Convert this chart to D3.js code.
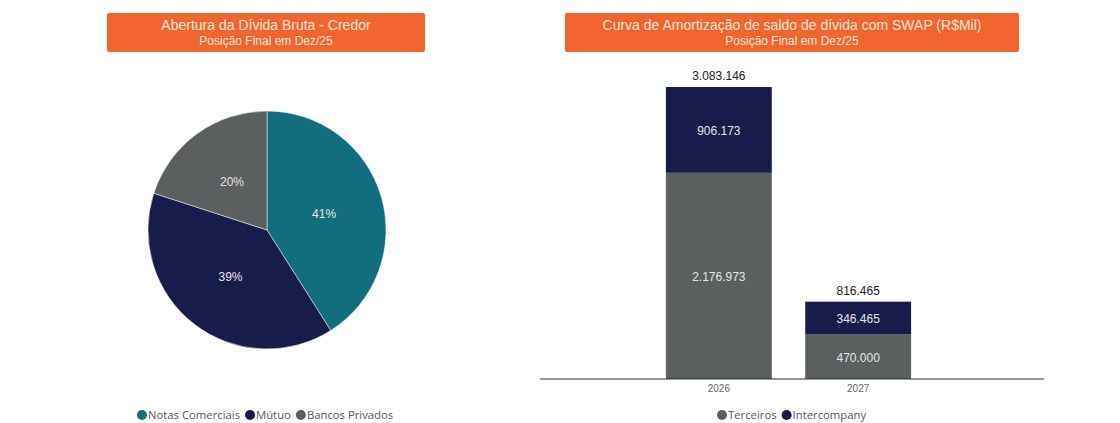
<!DOCTYPE html>
<html>
<head>
<meta charset="utf-8">
<script src="https://cdn.jsdelivr.net/npm/d3@7"></script>
<style>
  body { margin: 0; background: #fff; }
  svg { display: block; }
</style>
</head>
<body>
<div id="chart"></div>
<script>
// Data
const creditors = ["Notas Comerciais", "Mútuo", "Bancos Privados"];
const creditorShare = [41, 39, 20];

const years = ["2026", "2027"];
const seriesNames = ["Terceiros", "Intercompany"];
const terceiros = [2176973, 470000];
const intercompany = [906173, 346465];

const width = 1120;
const height = 423;

const colors = {
  teal: "#126e7e",
  navy: "#181c4a",
  gray: "#5b5f5f",
  orange: "#f26430"
};

const svg = d3.select("#chart")
  .append("svg")
    .attr("width", width)
    .attr("height", height);

const fmt = v => d3.format(",")(v).replace(/,/g, ".");

// Header boxes
function header(x, w, title, sub) {
  const g = svg.append("g").attr("transform", `translate(${x}, 13)`);
  g.append("rect")
    .attr("width", w)
    .attr("height", 39)
    .attr("rx", 2)
    .attr("fill", colors.orange);
  g.append("text")
    .attr("x", w / 2).attr("y", 17)
    .attr("text-anchor", "middle")
    .style("font-family", "Liberation Sans, Arial, sans-serif")
    .style("font-size", "14px")
    .style("fill", "#fce6dc")
    .text(title);
  g.append("text")
    .attr("x", w / 2).attr("y", 32)
    .attr("text-anchor", "middle")
    .style("font-family", "Liberation Sans, Arial, sans-serif")
    .style("font-size", "12px")
    .style("fill", "#fce6dc")
    .text(sub);
}

header(107, 318, "Abertura da Dívida Bruta - Credor", "Posição Final em Dez/25");
header(565, 454, "Curva de Amortização de saldo de dívida com SWAP (R$Mil)", "Posição Final em Dez/25");

// Pie chart
const pieColor = d3.scaleOrdinal()
  .domain(creditors)
  .range([colors.teal, colors.navy, colors.gray]);

const pieData = creditors.map((c, i) => ({ name: c, value: creditorShare[i] }));
const pie = d3.pie().sort(null).value(d => d.value);
const radius = 119;
const arc = d3.arc().innerRadius(0).outerRadius(radius);
const labelArc = d3.arc().innerRadius(radius * 0.5).outerRadius(radius * 0.5);

const pieG = svg.append("g").attr("transform", "translate(267, 230)");

pieG.selectAll("path")
  .data(pie(pieData))
  .enter()
  .append("path")
    .attr("d", arc)
    .attr("fill", d => pieColor(d.data.name))
    .attr("stroke", "#fff")
    .attr("stroke-width", 0.5);

pieG.selectAll("text")
  .data(pie(pieData))
  .enter()
  .append("text")
    .attr("transform", d => `translate(${labelArc.centroid(d)})`)
    .attr("text-anchor", "middle")
    .attr("dy", "0.35em")
    .style("font-family", "Liberation Sans, Arial, sans-serif")
    .style("font-size", "12px")
    .style("fill", "#e6e6e6")
    .text(d => d.data.value + "%");

// Legend helper
function legend(items, colorFn, startX, y) {
  const g = svg.append("g");
  let x = startX;
  items.forEach(name => {
    g.append("circle")
      .attr("cx", x + 5).attr("cy", y)
      .attr("r", 5)
      .attr("fill", colorFn(name));
    const t = g.append("text")
      .attr("x", x + 11).attr("y", y)
      .attr("dy", "0.35em")
      .style("font-family", "Open Sans, sans-serif")
      .style("font-size", "11.3px")
      .style("fill", "#555")
      .text(name);
    x += 11 + t.node().getComputedTextLength() + 5;
  });
}

legend(creditors, pieColor, 137, 415);

// Stacked bar chart
const barColor = d3.scaleOrdinal()
  .domain(seriesNames)
  .range([colors.gray, colors.navy]);

const barRows = years.map((y, i) => ({
  year: y,
  Terceiros: terceiros[i],
  Intercompany: intercompany[i]
}));

const stacked = d3.stack().keys(seriesNames)(barRows);

const xScale = d3.scaleBand()
  .domain(years)
  .range([645, 932])
  .paddingInner(0.24)
  .paddingOuter(0.15);

const yScale = d3.scaleLinear()
  .domain([0, 3083146])
  .range([379, 87]);

const barG = svg.append("g");

barG.selectAll("g.series")
  .data(stacked)
  .enter()
  .append("g")
    .attr("class", "series")
    .attr("fill", d => barColor(d.key))
  .selectAll("rect")
    .data(d => d)
    .enter()
    .append("rect")
      .attr("x", d => xScale(d.data.year))
      .attr("y", d => yScale(d[1]))
      .attr("width", xScale.bandwidth())
      .attr("height", d => yScale(d[0]) - yScale(d[1]));

// segment labels
barG.selectAll("g.segLabels")
  .data(stacked)
  .enter()
  .append("g")
  .selectAll("text")
    .data(d => d)
    .enter()
    .append("text")
      .attr("x", d => xScale(d.data.year) + xScale.bandwidth() / 2)
      .attr("y", d => (yScale(d[0]) + yScale(d[1])) / 2 + 1)
      .attr("dy", "0.35em")
      .attr("text-anchor", "middle")
      .style("font-family", "Liberation Sans, Arial, sans-serif")
      .style("font-size", "12px")
      .style("fill", "#e6e6e6")
      .text(d => fmt(d[1] - d[0]));

// totals
barG.selectAll("text.total")
  .data(barRows)
  .enter()
  .append("text")
    .attr("class", "total")
    .attr("x", d => xScale(d.year) + xScale.bandwidth() / 2)
    .attr("y", d => yScale(d.Terceiros + d.Intercompany) - 7)
    .attr("text-anchor", "middle")
    .style("font-family", "Liberation Sans, Arial, sans-serif")
    .style("font-size", "12px")
    .style("fill", "#222")
    .text(d => fmt(d.Terceiros + d.Intercompany));

// x axis
const xAxisG = svg.append("g")
  .attr("transform", "translate(0, 379)")
  .call(d3.axisBottom(xScale).tickSize(0).tickPadding(6));
xAxisG.select(".domain").remove();
xAxisG.append("line")
  .attr("x1", 540).attr("x2", 1044)
  .attr("stroke", "#333")
  .attr("stroke-width", 1);
xAxisG.selectAll(".tick text")
  .style("font-family", "Liberation Sans, Arial, sans-serif")
  .style("font-size", "10px")
  .style("fill", "#666");

legend(seriesNames, barColor, 717, 415);
</script>
</body>
</html>
